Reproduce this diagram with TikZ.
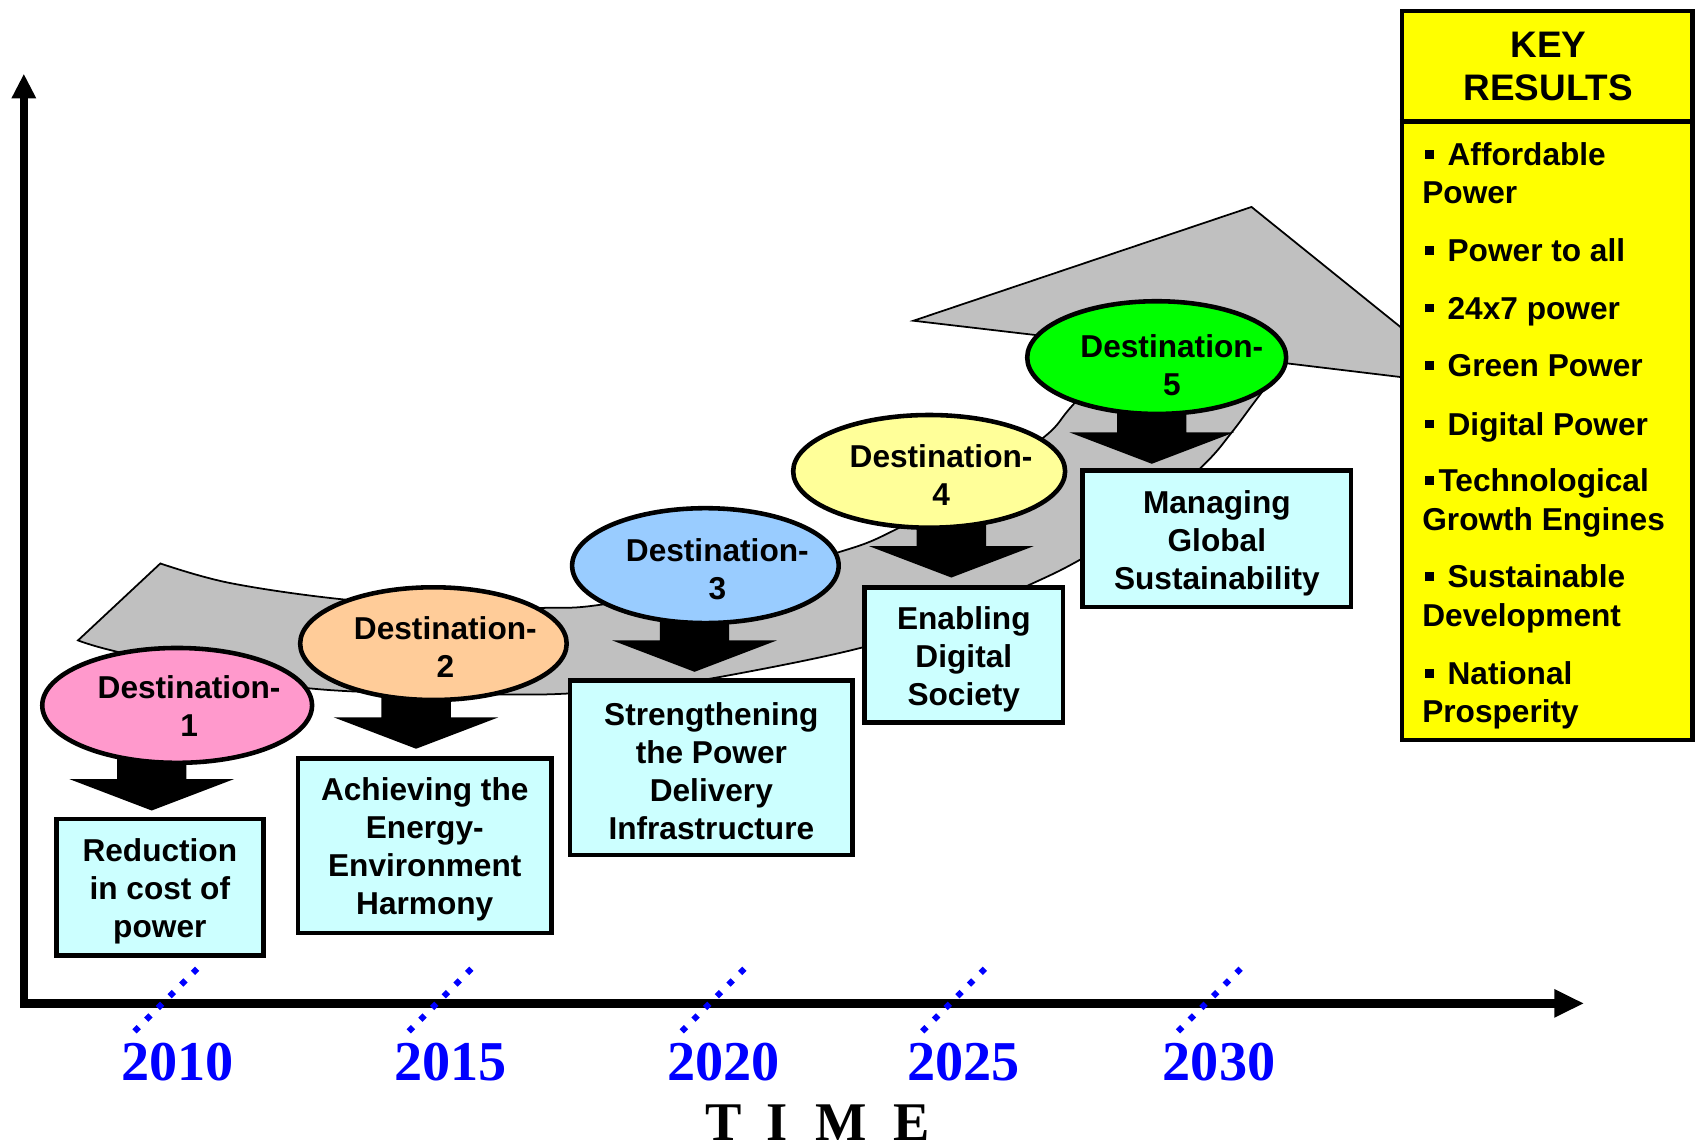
\documentclass[tikz,border=0pt]{standalone}
\usepackage{fontspec}
\setmainfont{Liberation Sans}
\newfontfamily\yearfont{Liberation Serif}
\usetikzlibrary{arrows.meta,shapes.geometric}

\newdimen\pu
\pu=0.308285pt
% square bullets of the key-results list
\newcommand\kb{\hspace*{0.7pt}\rule[1.9pt]{2.5pt}{2.5pt}\hspace{4pt}}
\newcommand\kbt{\hspace*{0.7pt}\rule[1.9pt]{2.5pt}{2.5pt}\hspace{1.4pt}}

\definecolor{destpink}{HTML}{FF99CC}
\definecolor{destpeach}{HTML}{FFCC99}
\definecolor{destblue}{HTML}{99CCFF}
\definecolor{destyellow}{HTML}{FFFF99}
\definecolor{destgreen}{HTML}{00FF00}
\definecolor{goalcyan}{HTML}{CCFFFF}
\definecolor{keyyellow}{HTML}{FFFF00}
\definecolor{pathgray}{HTML}{C0C0C0}
\definecolor{yearblue}{HTML}{0000FF}

\begin{document}
\begin{tikzpicture}[x=0.308285pt, y=-0.308285pt,
  boxfont/.style={font=\fontsize{9}{10.8}\selectfont\bfseries},
  dest/.style={ellipse, draw, line width=1.3pt, inner sep=0pt},
  destlabel/.style={boxfont, align=center, inner sep=0pt},
  goal/.style={draw, line width=1.3pt, fill=goalcyan, inner sep=0pt},
  goaltext/.style={boxfont, align=center, inner sep=0pt},
  swoosh/.style={fill=pathgray, draw=black, line width=0.5pt, line join=miter},
  axisline/.style={line width=2.4pt},
  yeartick/.style={draw=yearblue, line width=1.7pt, dash pattern=on 1.7pt off 3pt},
  yearlabel/.style={text=yearblue, font=\fontsize{16}{16}\selectfont\yearfont\bfseries, inner sep=0pt},
  keyline/.style={boxfont, anchor=base west, inner sep=0pt},
  pics/downblock/.style={code={
    \fill[black] (-32,-70) -- (32,-70) -- (32,-29) -- (76,-29) -- (0,0)
      -- (-76,-29) -- (-32,-29) -- cycle;}}
]
\useasboundingbox (0,0) rectangle (1568,1059);

% the grey road rising towards the key results
\draw[swoosh] (148,520)
  -- plot[smooth, tension=0.6] coordinates {(148,520) (212,538) (315,553) (420,560)
     (502,561) (555,558) (665,538) (776,509) (826,489) (900,448) (964,403) (989,375) (1039,319)}
  -- (954,309) -- (843,296) -- (1155,191) -- (1361,357) -- (1293,348) -- (1185,335)
  -- plot[smooth, tension=0.6] coordinates {(1185,335) (1157,372) (1136,400) (1111,429)
     (1050,485) (996,517) (956,537) (880,570) (794,598) (674,623) (600,634) (525,640)
     (470,641) (380,640) (283,635) (190,620) (102,600) (72,591)}
  -- cycle;

% block arrows from each destination to its goal
\pic at (140,748) {downblock};
\pic at (384,691) {downblock};
\pic at (641,620) {downblock};
\pic at (878,533) {downblock};
\pic at (1063,428) {downblock};

% destinations
\node[dest, fill=destpink,   minimum width=249\pu, minimum height=106\pu] (e1) at (163.5,651) {};
\node[dest, fill=destpeach,  minimum width=246\pu, minimum height=104\pu] (e2) at (400,594) {};
\node[dest, fill=destblue,   minimum width=246\pu, minimum height=106\pu] (e3) at (651,522) {};
\node[dest, fill=destyellow, minimum width=251\pu, minimum height=104\pu] (e4) at (857.5,435) {};
\node[dest, fill=destgreen,  minimum width=239\pu, minimum height=104\pu] (e5) at (1067.5,330) {};

\node[destlabel] (t1) at ([xshift=11\pu, yshift=-1\pu]e1.center) {Destination-\\1};
\node[destlabel] (t2) at ([xshift=11\pu, yshift=-3\pu]e2.center) {Destination-\\2};
\node[destlabel] (t3) at ([xshift=11\pu, yshift=-3\pu]e3.center) {Destination-\\3};
\node[destlabel] (t4) at ([xshift=11\pu, yshift=-3\pu]e4.center) {Destination-\\4};
\node[destlabel] (t5) at ([xshift=14\pu, yshift=-7\pu]e5.center) {Destination-\\5};

% goals
\node[goal, minimum width=191\pu, minimum height=126\pu] (g1) at (147.5,819) {};
\node[goal, minimum width=234\pu, minimum height=161\pu] (g2) at (392,780.5) {};
\node[goal, minimum width=261\pu, minimum height=161\pu] (g3) at (656.5,708.5) {};
\node[goal, minimum width=183\pu, minimum height=125\pu] (g4) at (889.5,604.5) {};
\node[goal, minimum width=248\pu, minimum height=126\pu] (g5) at (1123,497) {};

\node[goaltext] (gt1) at ([yshift=-4\pu]g1.center) {Reduction\\in cost of\\power};
\node[goaltext] (gt2) at ([yshift=-3\pu]g2.center) {Achieving the\\Energy-\\Environment\\Harmony};
\node[goaltext] (gt3) at ([yshift=-3\pu]g3.center) {Strengthening\\the Power\\Delivery\\Infrastructure};
\node[goaltext] (gt4) at ([yshift=-4\pu]g4.center) {Enabling\\Digital\\Society};
\node[goaltext] (gt5) at ([yshift=-4\pu]g5.center) {Managing\\Global\\Sustainability};

% key results panel
\node[draw, line width=1.3pt, fill=keyyellow, minimum width=268\pu, minimum height=673\pu, inner sep=0pt] (kr) at (1428,346.5) {};
\coordinate (krdiv) at (1428,112);
\draw[line width=1.5pt] (kr.west |- krdiv) -- (kr.east |- krdiv);
\node[font=\fontsize{10.5}{12.3}\selectfont\bfseries, align=center, inner sep=0pt] (krhead) at (1429,61) {KEY\\RESULTS};
\foreach \txt/\yb [count=\i] in {\kb Affordable/152.5, Power/187.5, \kb Power to all/241.5,
    \kb 24x7 power/294.5, \kb Green Power/347.5, \kb Digital Power/401.5,
    \kbt Technological/453.5, Growth Engines/489.5, \kb Sustainable/542.5,
    Development/578.5, \kb National/631.5, Prosperity/666.5}
  \node[keyline] (kl\i) at (1312,\yb) {\txt};

% axes
\coordinate (org) at (22,926);
\coordinate (ytip) at (22,68);
\coordinate (xtip) at (1462,926);
\draw[axisline, {Triangle[length=7pt,width=6.5pt]}-{Triangle[length=8.5pt,width=7.5pt]}] (ytip) -- (org) -- (xtip);

% year marks
\foreach \xt in {182,435,687,909,1145}
  \draw[yeartick] (\xt,894) -- ++(-58,58);
\node[yearlabel] (y2010) at (164,980) {2010};
\node[yearlabel] (y2015) at (416,980) {2015};
\node[yearlabel] (y2020) at (668,980) {2020};
\node[yearlabel] (y2025) at (889,980) {2025};
\node[yearlabel] (y2030) at (1125,980) {2030};

\node[font=\fontsize{15.5}{15.5}\selectfont\yearfont\bfseries, inner sep=0pt] (time) at (755,1036)
  {T\hspace{0.45em}I\hspace{0.5em}M\hspace{0.5em}E};
\end{tikzpicture}
\end{document}
